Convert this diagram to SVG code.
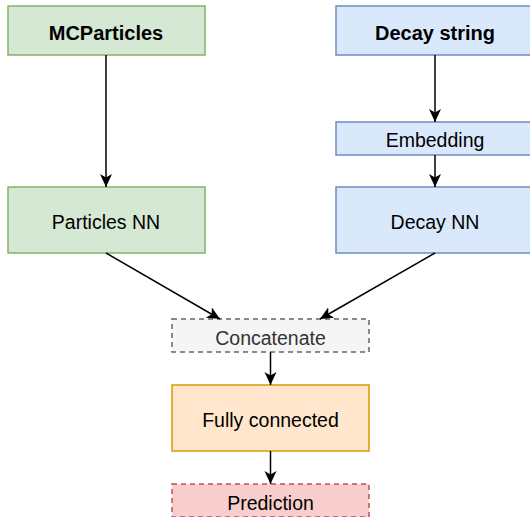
<svg xmlns="http://www.w3.org/2000/svg" width="530" height="517" viewBox="0 0 530 517">
<style>
text{font-family:"Liberation Sans",Arial,sans-serif;font-size:19.5px;fill:#000;text-anchor:middle;dominant-baseline:central}
.b{font-weight:bold;font-size:20px}
.g{fill:#d5e8d4;stroke:#82b366;stroke-width:1.5}
.bl{fill:#dae8fc;stroke:#6c8ebf;stroke-width:1.5}
.gr{fill:#f5f5f5;stroke:#666666;stroke-width:1.5;stroke-dasharray:5 4}
.o{fill:#ffe6cc;stroke:#d79b00;stroke-width:1.5}
.r{fill:#f8cecc;stroke:#b85450;stroke-width:1.5;stroke-dasharray:5 4}
.e{fill:none;stroke:#000;stroke-width:1.5;marker-end:url(#ah)}
</style>
<defs>
<marker id="ah" markerWidth="14" markerHeight="14" viewBox="0 0 14 14" refX="13" refY="7" orient="auto" markerUnits="userSpaceOnUse">
<path d="M0,1 L13,7 L0,13 L3.5,7 Z" fill="#000"/>
</marker>
</defs>
<g id="mcparticles"><rect class="g" x="8" y="6" width="197" height="49"/><text class="b" x="106" y="33">MCParticles</text></g>
<g id="particles-nn"><rect class="g" x="8" y="187" width="197" height="66"/><text x="106" y="222">Particles NN</text></g>
<g id="decay-string"><rect class="bl" x="336" y="6" width="198" height="49"/><text class="b" x="435" y="33">Decay string</text></g>
<g id="embedding"><rect class="bl" x="336" y="122" width="198" height="33"/><text x="435" y="140">Embedding</text></g>
<g id="decay-nn"><rect class="bl" x="336" y="187" width="198" height="66"/><text x="435" y="222">Decay NN</text></g>
<g id="concatenate"><rect class="gr" x="172" y="319" width="197" height="33"/><text x="270.5" y="338" style="fill:#333">Concatenate</text></g>
<g id="fully-connected"><rect class="o" x="172" y="385" width="197" height="66"/><text x="270.5" y="420">Fully connected</text></g>
<g id="prediction"><rect class="r" x="172" y="484" width="197" height="33"/><text x="270.5" y="503">Prediction</text></g>
<g id="connectors">
<path class="e" d="M106,55 V187"/>
<path class="e" d="M435,55 V122"/>
<path class="e" d="M435,155 V187"/>
<path class="e" d="M106,253 L220,319"/>
<path class="e" d="M435,253 L320,319"/>
<path class="e" d="M270.5,352 V385"/>
<path class="e" d="M270.5,451 V484"/>
</g>
</svg>
